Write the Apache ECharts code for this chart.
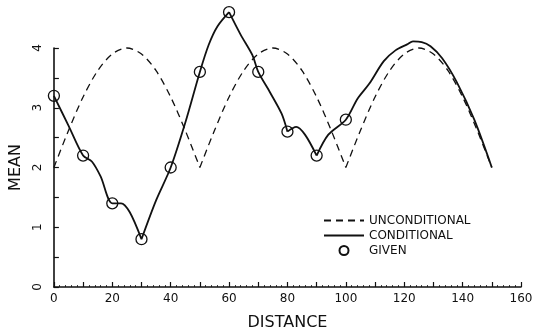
<!DOCTYPE html>
<html>
<head>
<meta charset="utf-8">
<script src="https://cdn.jsdelivr.net/npm/echarts@6/dist/echarts.min.js"></script>
<style>
  html, body { margin: 0; padding: 0; background: #fff; }
  #chart { width: 536px; height: 336px; }
</style>
</head>
<body>
<div id="chart"></div>
<script>
// unconditional mean (dashed arches); null splits the curve at its sharp minima
const uncondX = [0, 5, 10, 15, 20, 25, 30, 35, 40, 45, 50, 50, 50, 55, 60, 65, 70, 75, 80, 85, 90, 95, 100, 100, 100, 105, 110, 115, 120, 125, 130, 135, 140, 145, 150];
const uncondY = [2, 2.62, 3.18, 3.62, 3.9, 4, 3.9, 3.62, 3.18, 2.62, 2, null, 2, 2.62, 3.18, 3.62, 3.9, 4, 3.9, 3.62, 3.18, 2.62, 2, null, 2, 2.62, 3.18, 3.62, 3.9, 4, 3.9, 3.62, 3.18, 2.62, 2];

// conditional mean (solid); null splits the curve where it has a corner
const condX = [0, 5, 10, 13, 16, 20, 23, 26, 30, 30, 30, 35, 40, 45, 50, 53, 56, 60, 60, 60, 64, 68, 70, 74, 78, 80, 80, 80, 83, 86, 90, 90, 90, 94, 100, 104, 108, 113, 117, 121, 123, 126, 129, 133, 138, 144, 150];
const condY = [3.2, 2.7, 2.2, 2.1, 1.85, 1.4, 1.4, 1.25, 0.8, null, 0.8, 1.45, 2.0, 2.75, 3.6, 4.05, 4.36, 4.6, null, 4.6, 4.22, 3.88, 3.6, 3.26, 2.9, 2.6, null, 2.6, 2.68, 2.55, 2.2, null, 2.2, 2.55, 2.8, 3.15, 3.4, 3.78, 3.96, 4.06, 4.11, 4.1, 4.03, 3.83, 3.43, 2.8, 2.0];

// given observations
const givenX = [0, 10, 20, 30, 40, 50, 60, 70, 80, 90, 100];
const givenY = [3.2, 2.2, 1.4, 0.8, 2.0, 3.6, 4.6, 3.6, 2.6, 2.2, 2.8];

const zip = (xs, ys) => xs.map((x, i) => [x, ys[i] === null ? "-" : ys[i]]);

const ink = "#111";
const font = "DejaVu Sans";
const hiddenMark = { opacity: 0 };

const chart = echarts.init(document.getElementById("chart"), null, { renderer: "canvas" });

chart.setOption({
  backgroundColor: "#fff",
  animation: false,
  grid: { left: 46, right: 15, top: 48, bottom: 45 },
  legend: {
    orient: "vertical",
    left: 318,
    top: 209,
    itemWidth: 40,
    itemHeight: 9,
    itemGap: 2,
    textStyle: { fontFamily: font, fontSize: 12, lineHeight: 13, color: ink },
    data: [
      { name: "UNCONDITIONAL", itemStyle: hiddenMark },
      { name: "CONDITIONAL", itemStyle: hiddenMark },
      { name: "GIVEN" }
    ]
  },
  xAxis: {
    type: "value",
    min: 0,
    max: 160,
    interval: 10,
    name: "DISTANCE",
    nameLocation: "middle",
    nameGap: 28,
    nameTextStyle: { fontFamily: font, fontSize: 16, color: ink },
    axisLine: { lineStyle: { color: ink, width: 1.6 } },
    axisTick: { inside: true, length: 5, lineStyle: { color: ink, width: 1.2 } },
    minorTick: { show: true, splitNumber: 5, length: 2, lineStyle: { color: ink, width: 0.8 } },
    axisLabel: {
      margin: 6,
      fontFamily: font,
      fontSize: 12,
      color: ink,
      formatter: v => (v % 20 === 0 ? String(v) : "")
    },
    splitLine: { show: false }
  },
  yAxis: {
    type: "value",
    min: 0,
    max: 4,
    interval: 0.5,
    name: "MEAN",
    nameLocation: "middle",
    nameGap: 28,
    nameRotate: 90,
    nameTextStyle: { fontFamily: font, fontSize: 16, color: ink },
    axisLine: { show: true, lineStyle: { color: ink, width: 1.6 } },
    axisTick: { show: true, inside: true, length: 5, lineStyle: { color: ink, width: 1.2 } },
    axisLabel: {
      rotate: 90,
      margin: 10,
      fontFamily: font,
      fontSize: 12,
      color: ink,
      formatter: v => (Number.isInteger(v) ? String(v) : "")
    },
    splitLine: { show: false }
  },
  series: [
    {
      name: "UNCONDITIONAL",
      type: "line",
      data: zip(uncondX, uncondY),
      smooth: 0.3,
      connectNulls: false,
      showSymbol: false,
      symbol: "none",
      clip: false,
      itemStyle: { color: ink },
      lineStyle: { color: ink, width: 1.3, type: [7, 5] }
    },
    {
      name: "CONDITIONAL",
      type: "line",
      data: zip(condX, condY),
      smooth: 0.3,
      connectNulls: false,
      showSymbol: false,
      symbol: "none",
      clip: false,
      itemStyle: { color: ink },
      lineStyle: { color: ink, width: 1.8 }
    },
    {
      name: "GIVEN",
      type: "scatter",
      data: zip(givenX, givenY),
      symbol: "circle",
      symbolSize: 11,
      clip: false,
      z: 5,
      itemStyle: { color: "rgba(255,255,255,0)", borderColor: ink, borderWidth: 1.3, opacity: 1 }
    }
  ]
});
</script>
</body>
</html>
